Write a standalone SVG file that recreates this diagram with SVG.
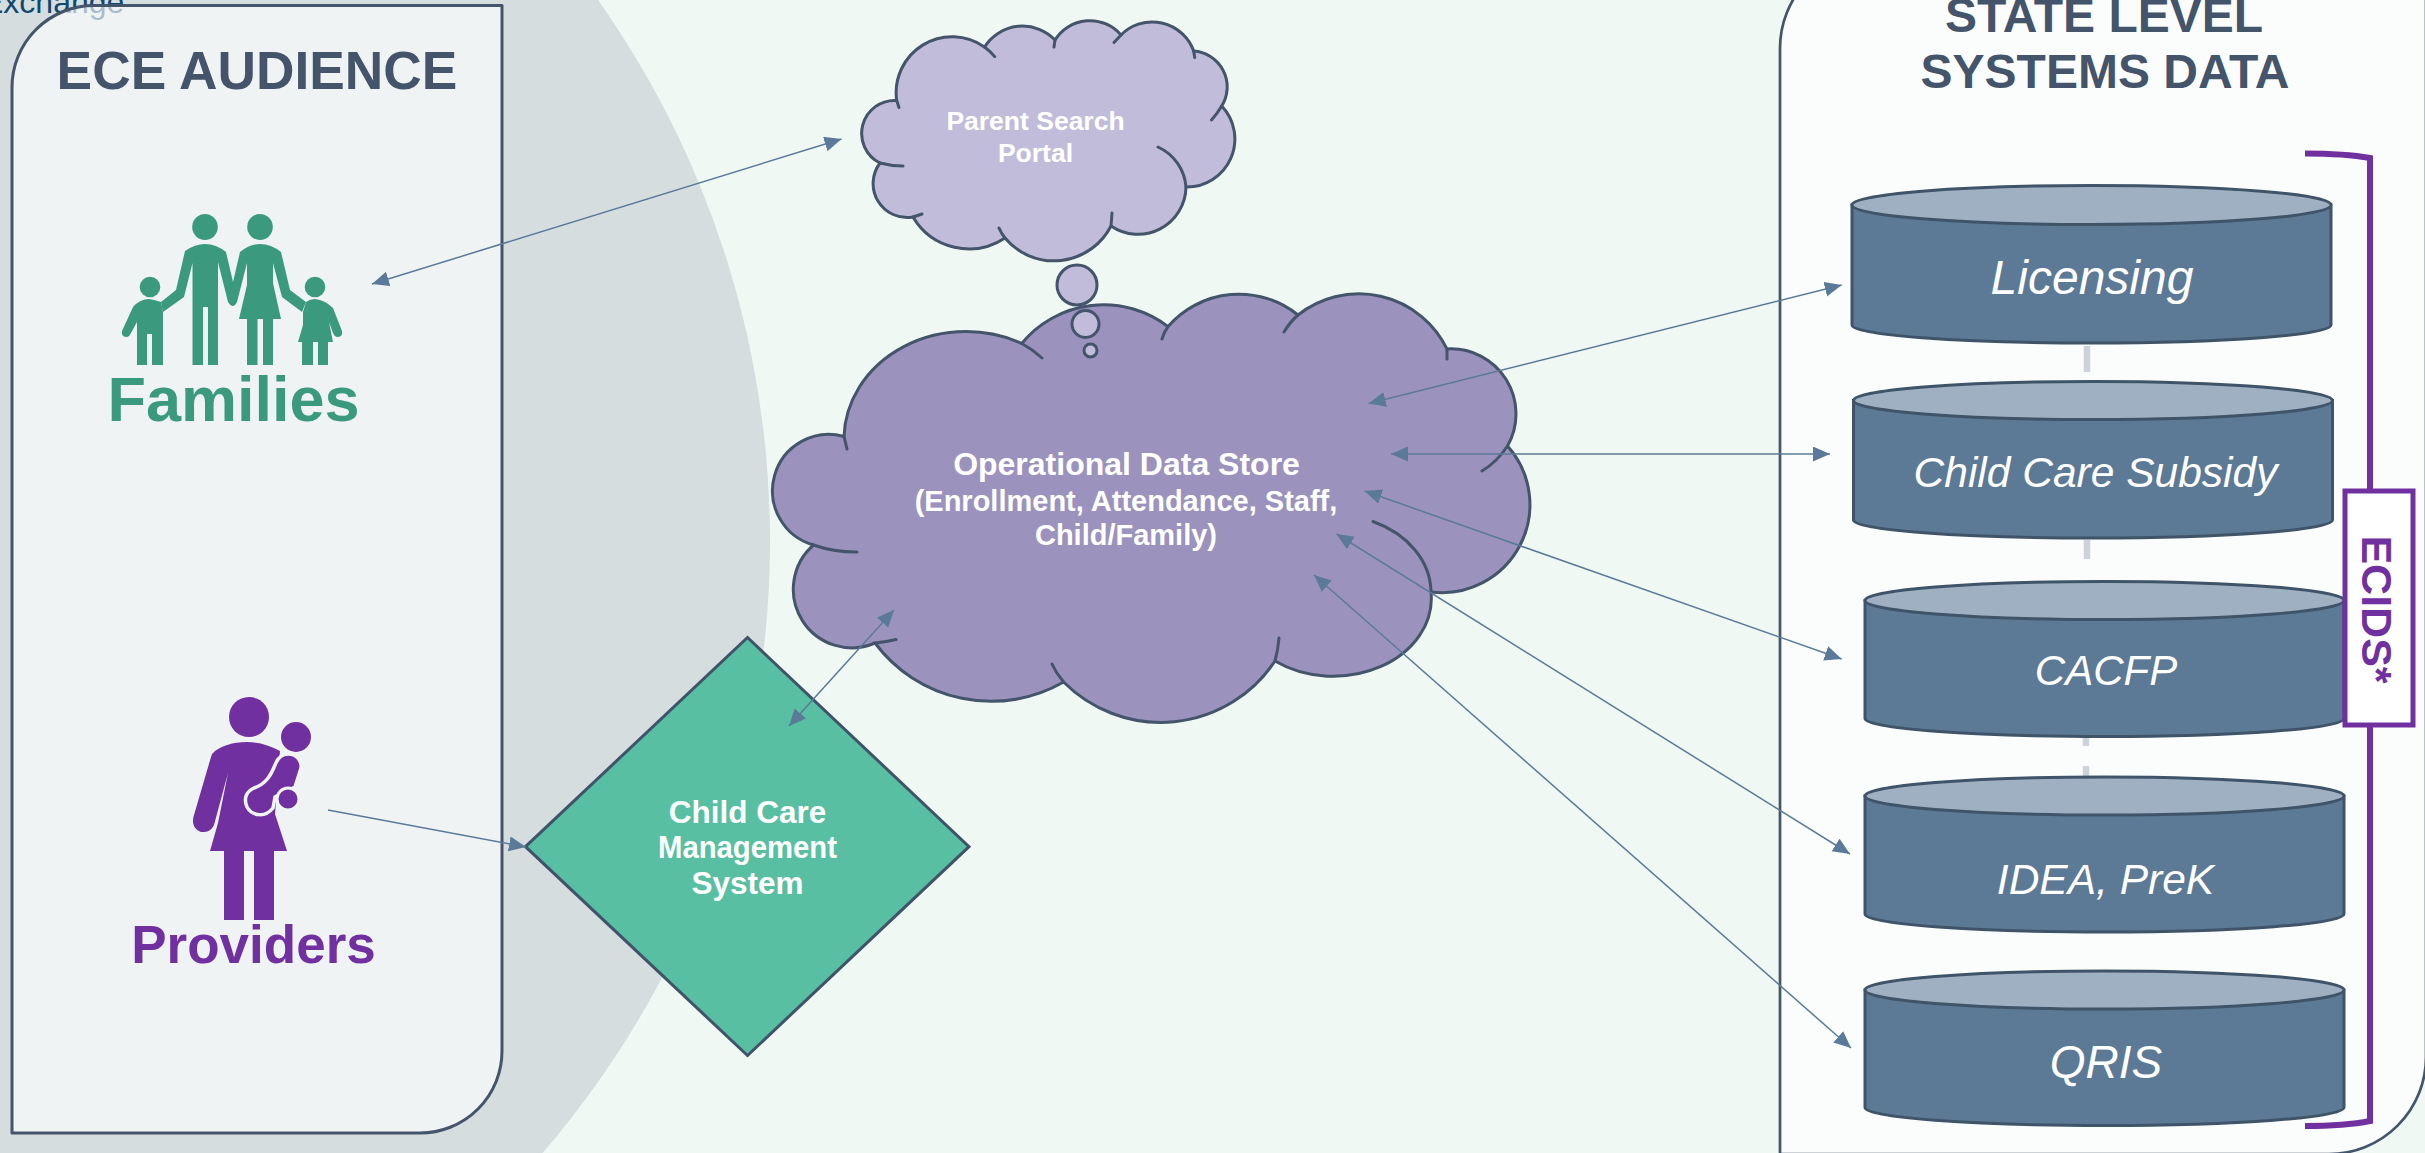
<svg xmlns="http://www.w3.org/2000/svg" width="2425" height="1153" viewBox="0 0 2425 1153">
<style>
text{font-family:"Liberation Sans",Arial,sans-serif}
.b{font-weight:700}
.m{text-anchor:middle}
.t{fill:#44546A;font-weight:700;text-anchor:middle}
.w{fill:#fff;font-weight:700;text-anchor:middle}
.db{fill:#fff;font-style:italic;text-anchor:middle}
.out{stroke:#44546A;stroke-width:3;stroke-linejoin:round}
.tail{fill:none;stroke:#44546A;stroke-width:3;stroke-linecap:round}
.body{fill:#5C7996;stroke:#3F5469;stroke-width:3}
.top{fill:#9FB0C3;stroke:#3F5469;stroke-width:3}
.cn{fill:none;stroke:#5B7A99;stroke-width:1.5}
.gr{stroke:#CDD2DC;stroke-width:6.5}
</style>
<defs>
<marker id="h" markerUnits="userSpaceOnUse" markerWidth="18" markerHeight="16" refX="17" refY="7.5" orient="auto-start-reverse"><path d="M0,0L17,7.5L0,15z" fill="#5B7A99"/></marker>
</defs>
<rect width="2425" height="1153" fill="#EFF8F3"/>
<circle cx="-167" cy="541" r="937" fill="#D5DDDF"/>
<text x="-18" y="13" font-size="32" fill="#11486E">Exchange</text>

<g id="ece-audience">
<path d="M12,87.500A82,82 0 0 1 94,5.500H502V1051A82,82 0 0 1 420,1133H12z" fill="#fff" fill-opacity=".64" class="out"/>
<text x="257" y="89" font-size="53.300" class="t">ECE AUDIENCE</text>
</g>

<g id="families" fill="#3B9A7D">
<ellipse cx="205" cy="227" rx="12.800" ry="13"/>
<ellipse cx="260" cy="227" rx="12.800" ry="13"/>
<circle cx="150" cy="287" r="10.300"/>
<circle cx="315" cy="287" r="10.300"/>
<path d="M192.500,365V263L184,297L163,312L161,302L176,290L185,251Q195,244 205,244Q216,244 226,252L233,282L240,252Q250,244 260,244Q271,244 281,252L290,290L306,302L302,312L282,297L273,263V283L281,319H273V365H263V319H257.500V365H247V319H239L247,285V263L237,302Q233,310 228,302L218,262V365H208V307H203V365z"/>
<path d="M149,299Q140,299 133,307L122,331Q121,337 127,337Q130,336 131,333L137,322V365H147V334H152V365H163V312L161,302Q155,300 149,299z"/>
<path d="M315,299Q325,300 333,308L342,331Q343,337 337,337Q334,336 333,333L329,322L333,342H328V365H318V342H313V365H302V342H298L303,325V312L306,302Q310,299 315,299z"/>
<text x="233.500" y="421" font-size="63" class="b m">Families</text>
</g>

<g id="providers" fill="#7030A0">
<circle cx="249" cy="717" r="20"/>
<circle cx="296" cy="737" r="15"/>
<path d="M247,742C232,742 222,746 215,751Q212,753 211,757L194,815C190,826 198,833 204,832C209,832 212,829 214,825L228,773L218,823L210,851H224V920H244V851H254V920H274V851H287L275,814L280,751C270,745 258,742 247,742z"/>
<path d="M288,754C296,754 302,760 301,768L295,787L275,797L273,808C265,818 252,816 247,807C243,798 247,791 254,788C266,784 271,775 275,765C278,757 282,754 288,754z" stroke="#F0F4F5" stroke-width="3.500"/>
<circle cx="288" cy="799" r="11" stroke="#F0F4F5" stroke-width="3"/>
<text x="253.500" y="963" font-size="53" class="b m">Providers</text>
</g>

<g id="state-level">
<path d="M1780,1160V48.500A97,97 0 0 1 1877,-48.500H2426V1057A97,97 0 0 1 2329,1154H1780" fill="#FBFDFC" stroke="#44546A" stroke-width="2.700"/>
<text x="2104" y="31.500" font-size="48" class="t">STATE LEVEL</text>
<text x="2105" y="87.500" font-size="48" class="t">SYSTEMS DATA</text>
</g>

<g id="spine">
<line x1="2087" y1="346" x2="2087" y2="372" class="gr"/>
<line x1="2087" y1="540" x2="2087" y2="559" class="gr"/>
<line x1="2086" y1="737" x2="2086" y2="746" class="gr"/>
<line x1="2086" y1="766" x2="2086" y2="778" class="gr"/>
</g>

<g id="licensing">
<path d="M1852,205V325A239.500,18 0 0 0 2331,325V205z" class="body"/>
<ellipse cx="2091.500" cy="205" rx="239.500" ry="19.500" class="top"/>
<text x="2092" y="294" font-size="48" class="db">Licensing</text>
</g>
<g id="subsidy">
<path d="M1853.500,400.500V520A239.500,18 0 0 0 2332.500,520V400.500z" class="body"/>
<ellipse cx="2093" cy="400.500" rx="239.500" ry="19" class="top"/>
<text x="2095.500" y="486.500" font-size="42.500" class="db">Child Care Subsidy</text>
</g>
<g id="cacfp">
<path d="M1865,600.500V718.500A239.500,18 0 0 0 2344,718.500V600.500z" class="body"/>
<ellipse cx="2104.500" cy="600.500" rx="239.500" ry="19" class="top"/>
<text x="2106" y="684.500" font-size="42" class="db">CACFP</text>
</g>
<g id="idea">
<path d="M1865,796V914A239.500,18 0 0 0 2344,914V796z" class="body"/>
<ellipse cx="2104.500" cy="796" rx="239.500" ry="19" class="top"/>
<text x="2105.500" y="893.500" font-size="42.500" class="db">IDEA, PreK</text>
</g>
<g id="qris">
<path d="M1865,990V1107.500A239.500,18 0 0 0 2344,1107.500V990z" class="body"/>
<ellipse cx="2104.500" cy="990" rx="239.500" ry="19" class="top"/>
<text x="2106" y="1077.500" font-size="46" class="db">QRIS</text>
</g>

<g id="ecids">
<path d="M2305,153.500Q2345,153.500 2370,158V1121Q2345,1126 2305,1126" fill="none" stroke="#7030A0" stroke-width="6"/>
<rect x="2345" y="491" width="68" height="234" fill="#fff" stroke="#7030A0" stroke-width="5"/>
<text transform="rotate(90 2362 609.500)" x="2362" y="609.500" font-size="43" fill="#7030A0" class="b m">ECIDS*</text>
</g>

<g id="ods">
<path d="M844,436.500A122,108 0 0 1 1021.700,343.500A106,106 0 0 1 1168,326.600A94,94 0 0 1 1298,315A98,98 0 0 1 1447,349A65,65 0 0 1 1507.500,446A88,88 0 0 1 1431,592A98,78 0 0 1 1275,661A137,137 0 0 1 1063.600,682A145,145 0 0 1 875,643A58.500,58.500 0 0 1 813.600,545A56.310,56.310 0 0 1 844,436.500z" fill="#9B93BE" class="out"/>
<path d="M844,436.500L847,449M1021.700,343.500Q1032,349 1042,358M1168,326.600Q1164,332 1162,339M1298,315Q1290,322 1284,332M1447,349V359M1507.500,446Q1497,462 1482,471M1373,521.500A98,78 0 0 1 1431,592M1275,661Q1278,650 1279,638M1063.600,682Q1056,673 1052,664M875,643Q886,642 896,639.500M813.600,545Q833,552 857,552" class="tail"/>
<text x="1126.500" y="474.500" font-size="32" class="w">Operational Data Store</text>
<text x="1126" y="510.500" font-size="29" class="w">(Enrollment, Attendance, Staff,</text>
<text x="1126" y="545" font-size="29" class="w">Child/Family)</text>
</g>

<g id="portal">
<path d="M896.700,100.500A56,56 0 0 1 984.500,47A45,45 0 0 1 1055,40A41,41 0 0 1 1121,35A44,44 0 0 1 1193.700,51A36,36 0 0 1 1221.700,106A48,48 0 0 1 1186,187A48,48 0 0 1 1111,226A64,64 0 0 1 1005,238A65,65 0 0 1 913,217A34,34 0 0 1 880,163A33,33 0 0 1 896.700,100.500z" fill="#C2BCDB" class="out"/>
<path d="M896.700,100.500L899,107.600M984.500,47Q990,51 994.700,56.600M1055,40L1054,47M1121,35L1114,42.500M1193.700,51L1194.700,57.600M1221.700,106Q1217,114 1211.500,120M1158,147A48,48 0 0 1 1186,187M1111,226L1112,213M1005,238Q1001,233 999,228M913,217L922,214M880,163Q891,166 903,166" class="tail"/>
<circle cx="1077" cy="285" r="20" fill="#C2BCDB" class="out"/>
<circle cx="1085.500" cy="324" r="13.500" fill="#C2BCDB" class="out"/>
<circle cx="1090.500" cy="350.500" r="6.500" fill="#C2BCDB" class="out"/>
<text x="1035.500" y="130" font-size="26.500" class="w">Parent Search</text>
<text x="1035.500" y="162" font-size="26.500" class="w">Portal</text>
</g>

<g id="ccms">
<path d="M525.500,846.700L747.500,637.500L969,846.700L747.500,1055.500z" fill="#58BFA2" stroke="#3F5469" stroke-width="3"/>
<text x="747.500" y="822.500" font-size="31.500" class="w">Child Care</text>
<text x="747.500" y="857.500" font-size="31.500" textLength="179" lengthAdjust="spacingAndGlyphs" class="w">Management</text>
<text x="747.500" y="893.500" font-size="31.500" class="w">System</text>
</g>

<g id="connectors">
<line x1="372" y1="284" x2="841.500" y2="139" class="cn" marker-start="url(#h)" marker-end="url(#h)"/>
<line x1="328" y1="810" x2="526" y2="847" class="cn" marker-end="url(#h)"/>
<line x1="789" y1="726" x2="894" y2="610" class="cn" marker-start="url(#h)" marker-end="url(#h)"/>
<line x1="1368.700" y1="403.500" x2="1841.700" y2="285" class="cn" marker-start="url(#h)" marker-end="url(#h)"/>
<line x1="1391" y1="454" x2="1830" y2="454" class="cn" marker-start="url(#h)" marker-end="url(#h)"/>
<line x1="1364.600" y1="491" x2="1841.700" y2="659" class="cn" marker-start="url(#h)" marker-end="url(#h)"/>
<line x1="1336.500" y1="534" x2="1850" y2="854" class="cn" marker-start="url(#h)" marker-end="url(#h)"/>
<line x1="1314" y1="575" x2="1851" y2="1048" class="cn" marker-start="url(#h)" marker-end="url(#h)"/>
</g>
</svg>
